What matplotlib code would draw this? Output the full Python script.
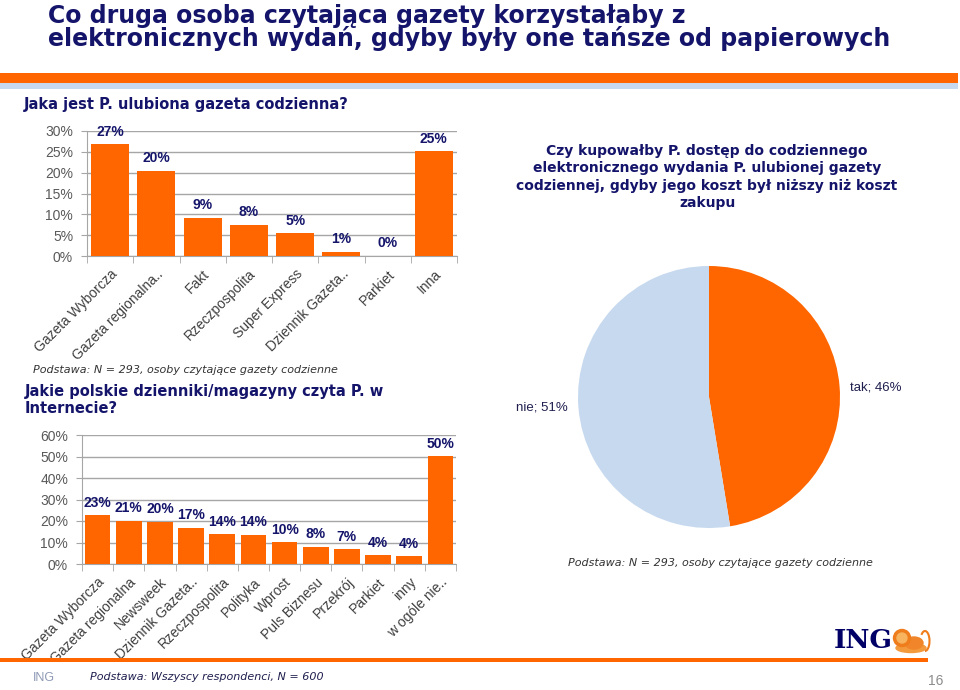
import matplotlib
matplotlib.use("Agg")
import matplotlib.pyplot as plt
from matplotlib.patches import Rectangle, Ellipse, Circle, Arc
import numpy as np

W, H = 960, 690
NAVY = "#14146b"
ORANGE = "#ff6600"
LIGHT_BLUE = "#c6d9ef"
GRID = "#a6a6a6"

# --- data -------------------------------------------------------------
fav_names = ["Gazeta Wyborcza", "Gazeta regionalna..", "Fakt", "Rzeczpospolita",
             "Super Express", "Dziennik Gazeta..", "Parkiet", "Inna"]
fav_values = [26.8, 20.4, 9.2, 7.5, 5.5, 1.0, 0.0, 25.1]
fav_labels = ["27%", "20%", "9%", "8%", "5%", "1%", "0%", "25%"]

web_names = ["Gazeta Wyborcza", "Gazeta regionalna", "Newsweek", "Dziennik Gazeta..",
             "Rzeczpospolita", "Polityka", "Wprost", "Puls Biznesu", "Przekrój",
             "Parkiet", "inny", "w ogóle nie.."]
web_values = [22.6, 20.2, 19.7, 16.9, 13.8, 13.5, 10.1, 8.1, 6.8, 4.0, 3.6, 50.1]
web_labels = ["23%", "21%", "20%", "17%", "14%", "14%", "10%", "8%", "7%", "4%", "4%", "50%"]

pie_names = ["tak", "nie"]
pie_values = [46, 51]


def fx(x):
    return x / W


def fy(y):
    return 1 - y / H


def box(left, top, right, bottom):
    return [fx(left), fy(bottom), (right - left) / W, (bottom - top) / H]


def bar_panel(fig, rect, names, values, labels, ymax, ystep):
    ax = fig.add_axes(box(*rect))
    pos = np.arange(len(names))
    bars = ax.bar(pos, values, width=0.82, color=ORANGE, zorder=3)
    for b, lab in zip(bars, labels):
        ax.annotate(lab, (b.get_x() + b.get_width() / 2, b.get_height()),
                    xytext=(0, 4), textcoords="offset points", ha="center", va="bottom",
                    fontsize=10, fontweight="bold", color=NAVY,
                    family="Liberation Sans")
    ax.set_xlim(-0.5, len(names) - 0.5)
    ax.set_ylim(0, ymax)
    ax.set_yticks(np.arange(0, ymax + 1, ystep))
    ax.yaxis.set_major_formatter(lambda v, p: f"{v:.0f}%")
    ax.grid(axis="y", color=GRID, lw=1, zorder=0)
    ax.set_xticks(pos)
    ax.set_xticklabels(names, rotation=45, ha="right", rotation_mode="anchor",
                       fontsize=10, color="#404040", family="Liberation Sans")
    ax.set_xticks(np.arange(-0.5, len(names)), minor=True)
    ax.tick_params(axis="x", which="major", length=0, pad=8)
    ax.tick_params(axis="x", which="minor", length=5, color=GRID)
    ax.tick_params(axis="y", length=4, color=GRID, pad=6, labelsize=10, labelcolor="#595959")
    for t in ax.get_yticklabels():
        t.set_family("Liberation Sans")
    for s in ("top", "right"):
        ax.spines[s].set_visible(False)
    ax.spines["left"].set_color(GRID)
    ax.spines["bottom"].set_color(GRID)
    return ax


fig = plt.figure(figsize=(9.6, 6.9), dpi=100)
fig.patch.set_facecolor("white")

# header
fig.text(fx(48), fy(4),
         "Co druga osoba czytająca gazety korzystałaby z\n"
         "elektronicznych wydań, gdyby były one tańsze od papierowych",
         fontsize=17, fontweight="bold", color=NAVY, family="DejaVu Sans",
         va="top", linespacing=0.92)
fig.patches.append(Rectangle((0, fy(83)), fx(958), 10 / H, transform=fig.transFigure,
                             color=ORANGE, lw=0))
fig.patches.append(Rectangle((0, fy(89)), fx(958), 6 / H, transform=fig.transFigure,
                             color=LIGHT_BLUE, lw=0))

# favourite daily newspaper
fig.text(fx(24), fy(105), "Jaka jest P. ulubiona gazeta codzienna?", fontsize=10.5,
         fontweight="bold", color=NAVY, family="DejaVu Sans", va="center")
bar_panel(fig, (87, 131, 457, 256), fav_names, fav_values, fav_labels, 30, 5)
fig.text(fx(33), fy(370), "Podstawa: N = 293, osoby czytające gazety codzienne",
         fontsize=8, style="italic", color="#333333", family="DejaVu Sans", va="center")

# newspapers read online
fig.text(fx(25), fy(384),
         "Jakie polskie dzienniki/magazyny czyta P. w\nInternecie?", fontsize=10.5,
         fontweight="bold", color=NAVY, family="DejaVu Sans", va="top", linespacing=1.15)
bar_panel(fig, (82, 435, 456, 564), web_names, web_values, web_labels, 60, 10)

# pie
fig.text(fx(707), fy(177),
         "Czy kupowałby P. dostęp do codziennego\n"
         "elektronicznego wydania P. ulubionej gazety\n"
         "codziennej, gdyby jego koszt był niższy niż koszt\n"
         "zakupu",
         fontsize=10, fontweight="bold", color=NAVY, family="DejaVu Sans",
         ha="center", va="center", linespacing=1.3)
pax = fig.add_axes(box(578, 266, 840, 528))
pax.pie(pie_values, colors=[ORANGE, LIGHT_BLUE], startangle=90, counterclock=False,
        radius=1)
pax.set_xlim(-1, 1)
pax.set_ylim(-1, 1)
pax.set_aspect("equal")
pax.axis("off")
fig.text(fx(850), fy(387), f"{pie_names[0]}; {pie_values[0]}%", fontsize=9.5,
         color="#1f1f4f", family="Liberation Sans", va="center")
fig.text(fx(516), fy(407), f"{pie_names[1]}; {pie_values[1]}%", fontsize=9.5,
         color="#1f1f4f", family="Liberation Sans", va="center")
fig.text(fx(720), fy(563), "Podstawa: N = 293, osoby czytające gazety codzienne",
         fontsize=8, style="italic", color="#333333", family="DejaVu Sans",
         ha="center", va="center")

# footer
fig.patches.append(Rectangle((0, fy(662)), fx(928), 4 / H, transform=fig.transFigure,
                             color=ORANGE, lw=0))
fig.text(fx(834), fy(641), "ING", fontsize=19, fontweight="bold", color="#000066",
         family="DejaVu Serif", va="center")
lion = fig.add_axes(box(891, 628, 931, 654))
lion.set_xlim(0, 40)
lion.set_ylim(0, 26)
lion.axis("off")
lion.add_patch(Ellipse((20, 6), 30, 9, color="#f39a3d"))
lion.add_patch(Ellipse((23, 11), 18, 12, color="#f0852a"))
lion.add_patch(Circle((11, 16), 8.5, color="#ef7d1c"))
lion.add_patch(Circle((11, 16), 5, color="#f7b35e"))
lion.add_patch(Arc((34, 13), 9, 20, theta1=-90, theta2=120, color="#ef7d1c", lw=1.5))
fig.text(fx(33), fy(678), "ING", fontsize=9, color="#8e9ab5", family="Liberation Sans",
         va="center")
fig.text(fx(90), fy(677), "Podstawa: Wszyscy respondenci, N = 600", fontsize=8,
         style="italic", color="#1f1f4f", family="DejaVu Sans", va="center")
fig.text(fx(928), fy(681), "16", fontsize=10, color="#8c8c8c", family="Liberation Sans",
         va="center")

fig.savefig("out.png", dpi=100)
